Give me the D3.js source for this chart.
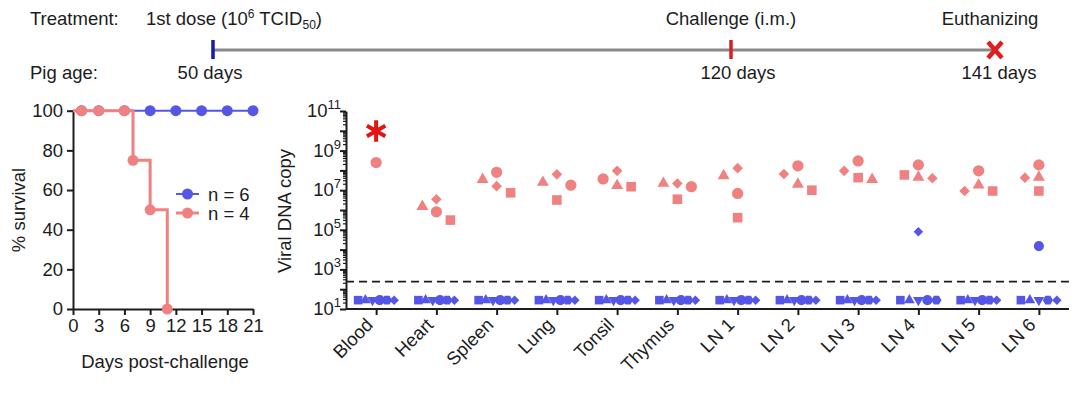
<!DOCTYPE html>
<html>
<head>
<meta charset="utf-8">
<script src="https://cdn.jsdelivr.net/npm/d3@7"></script>
<style>
body { margin: 0; background: #fff; }
svg { display: block; font-family: "Liberation Sans", Arial, sans-serif; }
</style>
</head>
<body>
<svg id="chart" width="1080" height="398"></svg>
<script>
// Timeline of the study
const timelineAges = [50, 120, 141];
const timelineEvents = ["1st dose", "Challenge (i.m.)", "Euthanizing"];

// Survival after challenge (days, % survival)
const vaxDays = [0, 1, 3, 6, 9, 12, 15, 18, 21];
const vaxSurvival = [100, 100, 100, 100, 100, 100, 100, 100, 100];
const ctrlDays = [0, 1, 3, 6, 7, 9, 11];
const ctrlSurvival = [100, 100, 100, 100, 75, 50, 0];
const survivalLegend = ["n = 6", "n = 4"];

// Viral DNA copies per tissue
const tissues = ["Blood", "Heart", "Spleen", "Lung", "Tonsil", "Thymus", "LN 1", "LN 2", "LN 3", "LN 4", "LN 5", "LN 6"];
const detectionLimit = 240;
// control pigs (one array per animal / symbol)
const ctrlCircle   = [2.5e8, 8.1e5, 8.0e7, 1.8e7, 3.7e7, 1.5e7, 6.9e6, 1.7e8, 3.0e8, 1.9e8, 9.5e7, 1.9e8];
const ctrlDiamond  = [null, 3.5e6, 1.6e7, 6.3e7, 9.5e7, 2.2e7, 1.3e8, 6.6e7, 9.5e7, 4.0e7, 9.1e6, 4.3e7];
const ctrlSquare   = [null, 3.1e5, 7.4e6, 3.2e6, 1.5e7, 3.5e6, 4.1e5, 1.0e7, 4.3e7, 5.9e7, 9.1e6, 9.1e6];
const ctrlTriangle = [null, 1.5e6, 3.5e7, 2.5e7, 1.7e7, 2.2e7, 5.4e7, 2.0e7, 3.5e7, 4.5e7, 1.8e7, 4.5e7];
// vaccinated pigs (28 = below detection limit)
const vaxSquare    = [28, 28, 28, 28, 28, 28, 28, 28, 28, 28, 28, 28];
const vaxTriangle  = [28, 28, 28, 28, 28, 28, 28, 28, 28, 28, 28, 28];
const vaxTriDown   = [28, 28, 28, 28, 28, 28, 28, 28, 28, 28, 28, 28];
const vaxCircle    = [28, 28, 28, 28, 28, 28, 28, 28, 28, 28, 28, 1.5e4];
const vaxHexagon   = [28, 28, 28, 28, 28, 28, 28, 28, 28, 28, 28, 28];
const vaxDiamond   = [28, 28, 28, 28, 28, 28, 28, 28, 28, 7.9e4, 28, 28];
const significant = ["Blood"];

const BLUE = "#5656e6", PINK = "#f08181", INK = "#1c1c1c";
const FONT = 18.5;

const svg = d3.select("#chart");
svg.append("rect").attr("width", 1080).attr("height", 398).attr("fill", "#fff");

// ---------- Timeline ----------
const T = d3.scaleLinear().domain(timelineAges).range([213, 731, 995]);
const timelineY = 50;
svg.append("line")
    .attr("x1", T(timelineAges[0])).attr("x2", T(timelineAges[2]) - 2)
    .attr("y1", timelineY).attr("y2", timelineY)
    .attr("stroke", "#8a8a8a").attr("stroke-width", 3);
svg.append("line")
    .attr("x1", T(timelineAges[0])).attr("x2", T(timelineAges[0]))
    .attr("y1", timelineY - 10).attr("y2", timelineY + 9)
    .attr("stroke", "#1b1baa").attr("stroke-width", 3.5);
svg.append("line")
    .attr("x1", T(timelineAges[1])).attr("x2", T(timelineAges[1]))
    .attr("y1", timelineY - 10).attr("y2", timelineY + 9)
    .attr("stroke", "#d81f1f").attr("stroke-width", 3.5);
// Euthanizing cross
var EX = T(timelineAges[2]);
[[-7, -8, 7, 8], [7, -8, -7, 8]].forEach(([a, b, c, d]) => {
    svg.append("line")
        .attr("x1", EX + a).attr("y1", timelineY + b).attr("x2", EX + c).attr("y2", timelineY + d)
        .attr("stroke", "#e01e1e").attr("stroke-width", 4.5);
});
var Top = svg.append("g").attr("font-size", FONT).attr("fill", INK);
Top.append("text").attr("x", 30).attr("y", 25).text("Treatment:");
Top.append("text").attr("x", 30).attr("y", 79).text("Pig age:");
var Dose = Top.append("text").attr("x", 146).attr("y", 25);
Dose.append("tspan").text(timelineEvents[0] + " (10");
Dose.append("tspan").attr("dy", -7).attr("font-size", 12).text("6");
Dose.append("tspan").attr("dy", 7).text(" TCID");
Dose.append("tspan").attr("dy", 4).attr("font-size", 12).text("50");
Dose.append("tspan").attr("dy", -4).text(")");
Top.append("text").attr("x", T(timelineAges[1])).attr("y", 25).attr("text-anchor", "middle").text(timelineEvents[1]);
Top.append("text").attr("x", T(timelineAges[2]) - 5).attr("y", 25).attr("text-anchor", "middle").text(timelineEvents[2]);
timelineAges.forEach((Age, I) => {
    Top.append("text").attr("x", T(Age) + [-3, 7, 4][I]).attr("y", 79)
        .attr("text-anchor", "middle").text(`${Age} days`);
});

// ---------- Survival ----------
const SX = d3.scaleLinear().domain([0, 21]).range([73, 253]);
const SY = d3.scaleLinear().domain([0, 100]).range([309, 110.7]);
var Surv = svg.append("g");
function styleAxis(G) {
    G.attr("font-size", FONT).attr("font-family", null);
    G.select(".domain").attr("stroke", INK).attr("stroke-width", 2);
    G.selectAll(".tick line").attr("stroke", INK).attr("stroke-width", 2);
    G.selectAll(".tick text").attr("fill", INK);
}
Surv.append("g").attr("transform", `translate(0,${SY(0)})`)
    .call(d3.axisBottom(SX).tickValues(d3.range(0, 22, 3)).tickSize(6).tickSizeOuter(0).tickPadding(4))
    .call(styleAxis);
Surv.append("g").attr("transform", `translate(${SX(0)},0)`)
    .call(d3.axisLeft(SY).tickValues(d3.range(0, 101, 20)).tickSize(6).tickSizeOuter(0).tickPadding(4))
    .call(styleAxis);
Surv.append("text").attr("x", 165).attr("y", 368).attr("text-anchor", "middle")
    .attr("font-size", FONT).attr("fill", INK).text("Days post-challenge");
Surv.append("text").attr("transform", "translate(25,210) rotate(-90)").attr("text-anchor", "middle")
    .attr("font-size", FONT).attr("fill", INK).text("% survival");
var StepLine = d3.line().x(D => SX(D[0])).y(D => SY(D[1])).curve(d3.curveStepAfter);
var VaxPoints = d3.zip(vaxDays, vaxSurvival);
var CtrlPoints = d3.zip(ctrlDays, ctrlSurvival);
Surv.append("path").attr("d", StepLine(VaxPoints)).attr("fill", "none").attr("stroke", BLUE).attr("stroke-width", 2);
Surv.selectAll(".vax-dot").data(VaxPoints.filter(D => D[0] > 0)).enter().append("circle")
    .attr("cx", D => SX(D[0])).attr("cy", D => SY(D[1])).attr("r", 5.5).attr("fill", BLUE);
Surv.append("path").attr("d", StepLine(CtrlPoints)).attr("fill", "none").attr("stroke", PINK).attr("stroke-width", 3);
Surv.selectAll(".ctrl-dot").data(CtrlPoints.filter(D => D[0] > 0)).enter().append("circle")
    .attr("cx", D => SX(D[0])).attr("cy", D => SY(D[1])).attr("r", 5.5).attr("fill", PINK);
// Legend
[BLUE, PINK].forEach((Color, I) => {
    var LY = 194 + I * 19;
    Surv.append("line").attr("x1", 176).attr("x2", 199).attr("y1", LY).attr("y2", LY)
        .attr("stroke", Color).attr("stroke-width", I ? 3 : 2);
    Surv.append("circle").attr("cx", 187.5).attr("cy", LY).attr("r", 5.5).attr("fill", Color);
    Surv.append("text").attr("x", 208).attr("y", LY + 6.5).attr("font-size", FONT).attr("fill", INK)
        .text(survivalLegend[I]);
});

// ---------- Viral DNA ----------
const VX = d3.scalePoint().domain(tissues).range([346, 1069]).padding(0.5);
const VY = d3.scaleLog().domain([10, 1e11]).range([309, 111]);
var Viral = svg.append("g");

// Symbols
var Diamond = { draw(C, S) { var R = Math.sqrt(S / 2); C.moveTo(0, -R); C.lineTo(R, 0); C.lineTo(0, R); C.lineTo(-R, 0); C.closePath(); } };
var TriDown = { draw(C, S) { var Y = -Math.sqrt(S / (Math.sqrt(3) * 3)); C.moveTo(0, -Y * 2); C.lineTo(-Math.sqrt(3) * Y, Y); C.lineTo(Math.sqrt(3) * Y, Y); C.closePath(); } };
var Hexagon = { draw(C, S) { var R = Math.sqrt(S / (1.5 * Math.sqrt(3))); for (var K = 0; K < 6; K++) { var A = Math.PI / 3 * K; K ? C.lineTo(R * Math.cos(A), R * Math.sin(A)) : C.moveTo(R, 0); } C.closePath(); } };
var Shapes = {
    circle: [d3.symbolCircle, 100], square: [d3.symbolSquare, 92], triangle: [d3.symbolTriangle, 62],
    triangleDown: [TriDown, 62], diamond: [Diamond, 56], hexagon: [Hexagon, 84]
};

// Flatten into points
var Groups = [
    { Color: BLUE, Scale: 0.8, Series: [["square", vaxSquare], ["triangle", vaxTriangle], ["triangleDown", vaxTriDown], ["circle", vaxCircle], ["hexagon", vaxHexagon], ["diamond", vaxDiamond]] },
    { Color: PINK, Scale: 1, Series: [["circle", ctrlCircle], ["diamond", ctrlDiamond], ["square", ctrlSquare], ["triangle", ctrlTriangle]] }
];
var Points = [];
Groups.forEach(Group => Group.Series.forEach(([Shape, Values]) => Values.forEach((Value, I) => {
    if (Value != null) Points.push({ Tissue: tissues[I], Value, Shape, Color: Group.Color, Scale: Group.Scale, DX: 0 });
})));

// Spread the points sideways so the markers do not hide each other
var Box = 11, Slot = 14;
tissues.forEach(Tissue => {
    var Here = Points.filter(P => P.Tissue == Tissue);
    var Low = Here.filter(P => P.Value < detectionLimit);
    var Step = Low.length > 1 ? Math.min(10, 36 / (Low.length - 1)) : 0;
    Low.forEach((P, I) => P.DX = (I - (Low.length - 1) / 2) * Step);
    var High = Here.filter(P => P.Value >= detectionLimit).sort((A, B) => B.Value - A.Value);
    var Placed = [], Lean = -1;
    High.forEach(P => {
        var PY = VY(P.Value);
        for (var K = 0; K < 8; K++) {
            var Options = K == 0 ? [0] : [Lean * K * Slot, -Lean * K * Slot];
            var Free = Options.find(DX => Placed.every(Q => Math.abs(Q.DX - DX) >= Box || Math.abs(Q.PY - PY) >= Box));
            if (Free !== undefined) { P.DX = Free; if (Free != 0) Lean = Free > 0 ? -1 : 1; break; }
        }
        P.PY = PY;
        Placed.push(P);
    });
});

// Axes
var XAxis = Viral.append("g").attr("transform", `translate(0,${VY(10)})`)
    .call(d3.axisBottom(VX).tickSize(6).tickSizeOuter(0).tickFormat(""))
    .call(styleAxis);
XAxis.select(".domain").attr("d", `M346,0H1069`);
var Minor = [];
for (var E = 1; E < 11; E++) for (var M = 2; M < 10; M++) Minor.push(M * Math.pow(10, E));
var Decades = d3.range(1, 12).map(E => Math.pow(10, E));
var YAxis = Viral.append("g").attr("transform", `translate(346,0)`)
    .call(d3.axisLeft(VY).tickValues(Decades).tickSize(6).tickSizeOuter(0).tickFormat(""))
    .call(styleAxis);
YAxis.selectAll(".minor").data(Minor).enter().append("line").attr("class", "minor")
    .attr("x1", 0).attr("x2", -3).attr("y1", D => VY(D)).attr("y2", D => VY(D))
    .attr("stroke", INK).attr("stroke-width", 1.2);
Decades.filter((D, I) => I % 2 == 0).forEach(D => {
    var Label = Viral.append("text").attr("x", 341).attr("y", VY(D) + 6).attr("text-anchor", "end")
        .attr("font-size", FONT).attr("fill", INK);
    Label.append("tspan").text("10");
    Label.append("tspan").attr("dy", -8).attr("font-size", 13).text(Math.round(Math.log10(D)));
});
Viral.append("text").attr("transform", "translate(291,211) rotate(-90)").attr("text-anchor", "middle")
    .attr("font-size", FONT).attr("fill", INK).text("Viral DNA copy");
tissues.forEach(Tissue => {
    Viral.append("text").attr("transform", `translate(${VX(Tissue) - 2},326) rotate(-45)`)
        .attr("text-anchor", "end").attr("font-size", FONT).attr("fill", INK).text(Tissue);
});

// Detection limit
Viral.append("line").attr("x1", 346).attr("x2", 1069).attr("y1", VY(detectionLimit)).attr("y2", VY(detectionLimit))
    .attr("stroke", INK).attr("stroke-width", 1.8).attr("stroke-dasharray", "8,5");

// Markers
Viral.selectAll(".point").data(Points).enter().append("path").attr("class", "point")
    .attr("transform", P => `translate(${VX(P.Tissue) + P.DX},${VY(P.Value)})`)
    .attr("d", P => d3.symbol().type(Shapes[P.Shape][0]).size(Shapes[P.Shape][1] * P.Scale)())
    .attr("fill", P => P.Color);

// Significance
significant.forEach(Tissue => {
    Viral.append("path").attr("transform", `translate(${VX(Tissue)},131)`)
        .attr("d", d3.symbol().type(d3.symbolAsterisk).size(320)())
        .attr("fill", "none").attr("stroke", "#e31414").attr("stroke-width", 4);
});
</script>
</body>
</html>
